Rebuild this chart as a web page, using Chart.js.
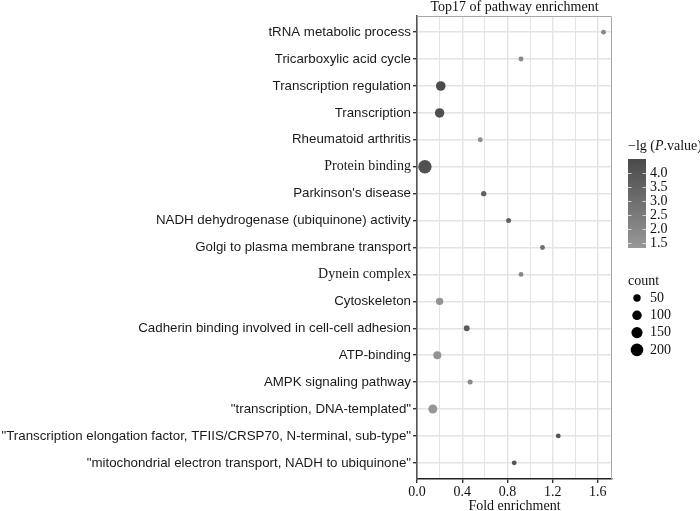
<!DOCTYPE html>
<html>
<head>
<meta charset="utf-8">
<script src="https://cdn.jsdelivr.net/npm/chart.js@4.4.1/dist/chart.umd.min.js"></script>
<style>
  html, body { margin: 0; padding: 0; background: #fff; }
</style>
</head>
<body>
<canvas id="dotChart" width="700" height="511"></canvas>
<script>
// pathways, top to bottom
const categories = [
  "tRNA metabolic process",
  "Tricarboxylic acid cycle",
  "Transcription regulation",
  "Transcription",
  "Rheumatoid arthritis",
  "Protein binding",
  "Parkinson's disease",
  "NADH dehydrogenase (ubiquinone) activity",
  "Golgi to plasma membrane transport",
  "Dynein complex",
  "Cytoskeleton",
  "Cadherin binding involved in cell-cell adhesion",
  "ATP-binding",
  "AMPK signaling pathway",
  "\"transcription, DNA-templated\"",
  "\"Transcription elongation factor, TFIIS/CRSP70, N-terminal, sub-type\"",
  "\"mitochondrial electron transport, NADH to ubiquinone\""
];
const foldEnrichment = [1.65, 0.92, 0.21, 0.20, 0.56, 0.07, 0.59, 0.81, 1.11, 0.92, 0.20, 0.44, 0.18, 0.47, 0.14, 1.25, 0.86];
const geneCount      = [4, 6, 105, 100, 6, 230, 12, 8, 5, 4, 50, 22, 64, 8, 88, 4, 6];
const negLogP        = [2.0, 1.9, 4.45, 4.3, 1.8, 4.2, 3.6, 3.5, 3.0, 1.95, 1.5, 3.8, 1.5, 1.9, 1.4, 4.1, 4.1];

const xMajorTicks = [0, 0.4, 0.8, 1.2, 1.6];
const colorBreaks = [1.5, 2.0, 2.5, 3.0, 3.5, 4.0];
const countBreaks = [50, 100, 150, 200];
const serifLabels = ["Protein binding", "Dynein complex"];

const SANS = "'Liberation Sans', Arial, sans-serif";
const SERIF = "'Liberation Serif', 'Times New Roman', serif";

// colour + size scales
const P_LOW = 1.3, P_HIGH = 4.5;
function greyFor(v) {
  const t = Math.max(0, Math.min(1, (v - P_LOW) / (P_HIGH - P_LOW)));
  const g = Math.round(152 - t * 78);
  return `rgb(${g},${g},${g})`;
}
function radiusFor(n) {
  return Math.sqrt(5 + 0.173 * n);
}
function isMajor(v) {
  return xMajorTicks.some((m) => Math.abs(m - v) < 1e-6);
}

const points = categories.map((c, i) => ({ x: foldEnrichment[i], y: i, r: radiusFor(geneCount[i]) }));

// title, panel border and the two legends
const decor = {
  id: "decor",
  afterDatasetsDraw(chart) {
    const { ctx, chartArea: a } = chart;
    ctx.save();
    ctx.strokeStyle = "#a8a8a8";
    ctx.lineWidth = 1;
    ctx.beginPath();
    ctx.moveTo(a.left, a.top + 0.5);
    ctx.lineTo(a.right - 0.5, a.top + 0.5);
    ctx.lineTo(a.right - 0.5, a.bottom);
    ctx.stroke();
    ctx.restore();
  },
  afterDraw(chart) {
    const { ctx, chartArea: a } = chart;
    ctx.save();
    ctx.fillStyle = "#111";
    ctx.textAlign = "center";
    ctx.textBaseline = "alphabetic";
    ctx.font = `14px ${SERIF}`;
    ctx.fillText("Top17 of pathway enrichment", (a.left + a.right) / 2, 10.5);
    ctx.textBaseline = "middle";
    ctx.fillText("Fold enrichment", (a.left + a.right) / 2, 506);

    // colour bar legend
    const lx = 628;
    ctx.textAlign = "left";
    let tx = lx;
    const ty = 146;
    ctx.font = `14px ${SERIF}`;
    ctx.fillText("\u2212lg (", tx, ty);
    tx += ctx.measureText("\u2212lg (").width;
    ctx.font = `italic 14px ${SERIF}`;
    ctx.fillText("P", tx, ty);
    tx += ctx.measureText("P").width;
    ctx.font = `14px ${SERIF}`;
    ctx.fillText(".value)", tx, ty);

    const barTop = 159, barBot = 248, barW = 18;
    const vTop = 4.5, vBot = 1.32;
    const yOf = (v) => barBot - (v - vBot) / (vTop - vBot) * (barBot - barTop);
    const grad = ctx.createLinearGradient(0, barBot, 0, barTop);
    grad.addColorStop(0, greyFor(vBot));
    grad.addColorStop(1, greyFor(vTop));
    ctx.fillStyle = grad;
    ctx.fillRect(lx, barTop, barW, barBot - barTop);
    ctx.strokeStyle = "rgba(255,255,255,0.7)";
    ctx.lineWidth = 1;
    ctx.font = `14px ${SERIF}`;
    ctx.fillStyle = "#111";
    colorBreaks.forEach((b) => {
      const y = Math.round(yOf(b)) + 0.5;
      ctx.beginPath();
      ctx.moveTo(lx, y); ctx.lineTo(lx + 3.5, y);
      ctx.moveTo(lx + barW - 3.5, y); ctx.lineTo(lx + barW, y);
      ctx.stroke();
      ctx.fillText(b.toFixed(1), 650, y);
    });

    // size legend
    ctx.font = `14px ${SERIF}`;
    ctx.fillText("count", lx, 281);
    countBreaks.forEach((c, i) => {
      const y = 298 + i * 17.3;
      ctx.beginPath();
      ctx.fillStyle = "#000";
      ctx.arc(637, y, radiusFor(c), 0, Math.PI * 2);
      ctx.fill();
      ctx.fillStyle = "#111";
      ctx.fillText(String(c), 650, y);
    });
    ctx.restore();
  }
};

new Chart(document.getElementById("dotChart"), {
  type: "bubble",
  data: {
    datasets: [{
      data: points,
      backgroundColor: negLogP.map(greyFor),
      borderWidth: 0,
      hoverBorderWidth: 0
    }]
  },
  options: {
    responsive: false,
    animation: false,
    layout: { padding: { top: 16, right: 88, left: 0, bottom: 0 } },
    plugins: { legend: { display: false }, tooltip: { enabled: false } },
    scales: {
      x: {
        type: "linear",
        min: 0,
        max: 1.725,
        grid: {
          color: "#e4e4e4",
          lineWidth: (c) => (c.tick && isMajor(c.tick.value) ? 1.4 : 1),
          tickLength: 4,
          tickColor: (c) => (c.tick && isMajor(c.tick.value) ? "#333" : "rgba(0,0,0,0)")
        },
        border: { color: "#222", width: 1.4 },
        ticks: {
          stepSize: 0.2,
          includeBounds: false,
          maxRotation: 0,
          autoSkip: false,
          padding: 1,
          color: "#111",
          font: { family: SERIF, size: 14 },
          callback: (v) => (isMajor(v) ? v.toFixed(1) : "")
        },
        afterFit: (s) => { s.height = 32; }
      },
      y: {
        type: "linear",
        reverse: true,
        min: -0.6,
        max: categories.length - 0.4,
        afterBuildTicks: (s) => { s.ticks = categories.map((c, i) => ({ value: i })); },
        grid: { color: "#e4e4e4", lineWidth: 1.4, tickLength: 4, tickColor: "#333" },
        border: { color: "#555", width: 1.6 },
        ticks: {
          autoSkip: false,
          padding: 2,
          color: "#1a1a1a",
          font: (c) => (serifLabels.includes(categories[c.index])
            ? { family: SERIF, size: 14 }
            : { family: SANS, size: 13.3 }),
          callback: (v) => categories[v]
        },
        afterFit: (s) => { s.width = 417; }
      }
    }
  },
  plugins: [decor]
});
</script>
</body>
</html>
